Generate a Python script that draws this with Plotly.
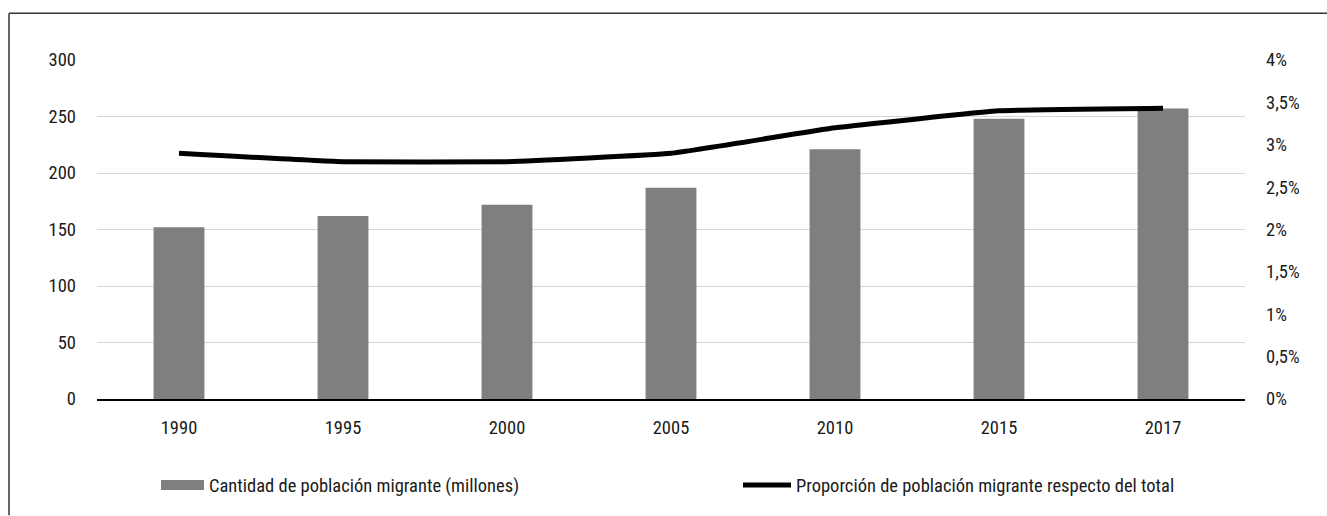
import plotly.graph_objects as go

# Migrant population by year
years = ["1990", "1995", "2000", "2005", "2010", "2015", "2017"]
migrants_millions = [152, 162, 172, 187, 221, 248, 257]
share_percent = [2.9, 2.8, 2.8, 2.9, 3.2, 3.4, 3.43]

left_ticks = [0, 50, 100, 150, 200, 250, 300]
right_ticks = [0, 0.5, 1, 1.5, 2, 2.5, 3, 3.5, 4]
right_tick_labels = ["0%", "0,5%", "1%", "1,5%", "2%", "2,5%", "3%", "3,5%", "4%"]

bar_name = "Cantidad de población migrante (millones)"
line_name = "Proporción de población migrante respecto del total"

FONT = "Liberation Sans Narrow, Arial Narrow, Roboto Condensed, DejaVu Sans Condensed, sans-serif"
BAR_COLOR = "#7f7f7f"
TEXT_COLOR = "#1a1a1a"

W, H = 1327, 516
L, R, T, B = 97, 82, 60, 115
plot_w = W - L - R
plot_h = H - T - B


def px_x(px):
    return (px - L) / plot_w


def px_y(py):
    return (H - B - py) / plot_h


fig = go.Figure()

fig.add_trace(go.Bar(
    x=years, y=migrants_millions, name=bar_name,
    marker=dict(color=BAR_COLOR, line=dict(width=0)),
    showlegend=False, yaxis="y",
))

# legend entry for the bars, drawn as a wide grey swatch
fig.add_trace(go.Scatter(
    x=[None], y=[None], mode="lines", name=bar_name,
    line=dict(color=BAR_COLOR, width=10),
    legend="legend", hoverinfo="skip",
))

fig.add_trace(go.Scatter(
    x=years, y=share_percent, name=line_name, mode="lines",
    line=dict(color="#000000", width=5, shape="spline", smoothing=0.3),
    yaxis="y2", legend="legend2",
))

# frame lines along the top and left edges
fig.add_shape(type="line", xref="paper", yref="paper",
              x0=px_x(9), x1=px_x(W + 2), y0=px_y(13), y1=px_y(13),
              line=dict(color="#333333", width=1.5))
fig.add_shape(type="line", xref="paper", yref="paper",
              x0=px_x(9), x1=px_x(9), y0=px_y(13), y1=px_y(H + 2),
              line=dict(color="#333333", width=1.5))

fig.update_layout(
    width=W, height=H,
    margin=dict(l=L, r=R, t=T, b=B),
    paper_bgcolor="white", plot_bgcolor="white",
    font=dict(family=FONT, size=18.5, color=TEXT_COLOR),
    bargap=0.69,
    xaxis=dict(
        type="category", showgrid=False, showline=True,
        linecolor="#000000", linewidth=2, ticks="",
        ticklabelstandoff=11,
        tickfont=dict(family=FONT, size=18.5, color=TEXT_COLOR),
    ),
    yaxis=dict(
        range=[0, 300], tickvals=left_ticks,
        showgrid=True, gridcolor="#d6d6d6", gridwidth=1.2,
        zeroline=False, showline=False, ticks="",
        ticklabelstandoff=20,
        tickfont=dict(family=FONT, size=18.5, color=TEXT_COLOR),
    ),
    yaxis2=dict(
        range=[0, 4], overlaying="y", side="right",
        tickvals=right_ticks, ticktext=right_tick_labels,
        showgrid=False, zeroline=False, showline=False, ticks="",
        ticklabelstandoff=20,
        tickfont=dict(family=FONT, size=18.5, color=TEXT_COLOR),
    ),
    legend=dict(
        orientation="h", x=px_x(156), y=px_y(488), xanchor="left", yanchor="middle",
        bgcolor="rgba(0,0,0,0)", itemwidth=43,
        font=dict(family=FONT, size=18.5, color=TEXT_COLOR),
    ),
    legend2=dict(
        orientation="h", x=px_x(738), y=px_y(488), xanchor="left", yanchor="middle",
        bgcolor="rgba(0,0,0,0)", itemwidth=48,
        font=dict(family=FONT, size=18.5, color=TEXT_COLOR),
    ),
    showlegend=True,
)

fig.write_html("out.html")
